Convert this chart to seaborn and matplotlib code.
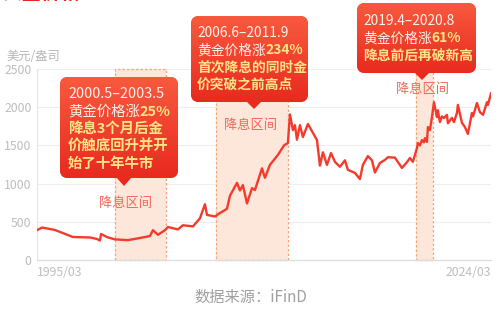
import numpy as np
import pandas as pd
import matplotlib
matplotlib.use("Agg")
import matplotlib.pyplot as plt
import seaborn as sns
from matplotlib.patches import FancyBboxPatch, Polygon
from matplotlib.colors import LinearSegmentedColormap

# ---------------- data ----------------
years = [1995.17, 1995.49, 1996.32, 1997.47, 1998.56, 1999.01, 1999.20, 1999.27, 1999.65, 2000.16,
         2001.00, 2001.76, 2002.40, 2002.59, 2002.91, 2003.36, 2003.55, 2004.19, 2004.51, 2005.15,
         2005.60, 2005.92, 2006.05, 2006.56, 2006.88, 2007.33, 2007.52, 2007.97, 2008.16, 2008.35,
         2008.61, 2008.93, 2009.12, 2009.57, 2009.76, 2010.08, 2010.59, 2010.98, 2011.23, 2011.36,
         2011.55, 2011.68, 2011.81, 2012.00, 2012.19, 2012.51, 2012.83, 2013.09, 2013.28, 2013.47,
         2013.73, 2013.99, 2014.24, 2014.56, 2014.88, 2015.07, 2015.52, 2015.84, 2016.03, 2016.35,
         2016.61, 2016.80, 2017.12, 2017.44, 2017.63, 2018.08, 2018.53, 2018.85, 2019.04, 2019.23,
         2019.49, 2019.55, 2019.68, 2019.81, 2019.94, 2020.00, 2020.13, 2020.19, 2020.32, 2020.45,
         2020.58, 2020.77, 2020.83, 2020.96, 2021.09, 2021.22, 2021.41, 2021.47, 2021.73, 2021.86,
         2022.05, 2022.11, 2022.37, 2022.56, 2022.75, 2023.01, 2023.08, 2023.33, 2023.52, 2023.72,
         2023.97, 2024.04, 2024.23]
prices = [390, 425, 393, 301, 295, 275, 255, 340, 300, 270,
          260, 288, 314, 390, 330, 390, 432, 400, 455, 440,
          545, 730, 590, 570, 615, 670, 840, 1010, 910, 980,
          740, 940, 915, 1200, 1075, 1245, 1375, 1500, 1530, 1905,
          1700, 1765, 1575, 1765, 1610, 1780, 1665, 1570, 1235, 1410,
          1245, 1400, 1285, 1220, 1305, 1180, 1140, 1060, 1245, 1360,
          1305, 1145, 1270, 1310, 1345, 1340, 1205, 1280, 1335, 1285,
          1465, 1530, 1500, 1570, 1540, 1595, 1545, 1740, 1700, 1870,
          2065, 1870, 1960, 1805, 1880, 1858, 1900, 1790, 1860, 1805,
          1925, 2030, 1795, 1740, 1650, 1925, 1880, 2055, 1935, 1900,
          2065, 2030, 2185]

cut_start = [2000.16, 2006.63, 2019.43]
cut_end = [2003.42, 2011.23, 2020.52]
region_label = "降息区间"

callout_dates = ["2000.5–2003.5", "2006.6–2011.9", "2019.4–2020.8"]
callout_gain_prefix = "黄金价格涨"
callout_gain = ["25%", "234%", "61%"]
callout_notes = [["降息3个月后金", "价触底回升并开", "始了十年牛市"],
                 ["首次降息的同时金", "价突破之前高点"],
                 ["降息前后再破新高"]]

y_ticks = [0, 500, 1000, 1500, 2000, 2500]
x_tick_labels = ["1995/03", "2024/03"]
unit_label = "美元/盎司"
source_label = "数据来源：iFinD"
title_label = "黄金价格"

# ---------------- style ----------------
sns.set_theme(style="white")
plt.rcParams["font.family"] = ["Noto Sans CJK SC", "DejaVu Sans"]

W, H = 501, 315
fig = plt.figure(figsize=(W / 100, H / 100), dpi=100)
ax = fig.add_axes([37 / W, 1 - 260 / H, 454 / W, 191 / H])

df = pd.DataFrame({"year": years, "price": prices})

# shaded cut regions
for s, e in zip(cut_start, cut_end):
    ax.axvspan(s, e, ymin=0, ymax=1, facecolor="#fde7da", edgecolor="none", zorder=1)
    ax.axvspan(s, e, ymin=0, ymax=1, facecolor="none", edgecolor="#f7a47c",
               linestyle=(0, (2, 1.6)), linewidth=0.9, zorder=1.5, clip_on=False)

sns.lineplot(data=df, x="year", y="price", ax=ax, color="#f53a2c", linewidth=1.7, zorder=3)

ax.set_xlim(years[0], years[-1])
ax.set_ylim(0, 2500)
ax.set_yticks(y_ticks)
ax.set_yticklabels([str(v) for v in y_ticks], color="#bdbdbd", fontsize=8.8)
ax.set_xticks([])
ax.set_xlabel("")
ax.set_ylabel("")
ax.tick_params(axis="y", length=0, pad=4)
for v in y_ticks:
    ax.axhline(v, color="#eeeeee", linewidth=0.8, zorder=0)
for side in ["top", "right"]:
    ax.spines[side].set_visible(False)
ax.spines["left"].set_color("#e6e6e6")
ax.spines["left"].set_linewidth(0.8)
ax.spines["bottom"].set_color("#dddddd")
ax.spines["bottom"].set_linewidth(0.9)

# ---------------- overlay (pixel coords) ----------------
ov = fig.add_axes([0, 0, 1, 1], zorder=5)
ov.set_xlim(0, W)
ov.set_ylim(H, 0)
ov.axis("off")
ov.patch.set_alpha(0)

ov.text(37, 273, x_tick_labels[0], ha="left", va="center", color="#bdbdbd", fontsize=8.8)
ov.text(491, 273, x_tick_labels[1], ha="right", va="center", color="#bdbdbd", fontsize=8.8)
ov.text(6, 56, unit_label, ha="left", va="center", color="#b5b5b5", fontsize=8.8)
ov.text(251, 297, source_label, ha="center", va="center", color="#a0a0a0", fontsize=11)
ov.text(2, -7, title_label, ha="left", va="center", color="#e8281e", fontsize=14, weight="bold")

# region labels
for (cx, cy) in [(126, 203), (251, 126), (423, 89)]:
    ov.text(cx, cy, region_label, ha="center", va="center", color="#f2685a", fontsize=9.5)

# callout boxes: (left, top, right, bottom, pointer x, pointer tip y, text x, first line y, spacing, fontsize)
boxes = [(60, 77, 178, 178, 124, 186, 68, 94, 17.5, 10.4),
         (191, 16, 308, 102, 254, 109, 197, 33, 17.4, 9.9),
         (357, 3, 476, 73, 422, 80, 363, 21, 17.5, 9.9)]

grad = np.linspace(0, 1, 256).reshape(-1, 1)
cmap = LinearSegmentedColormap.from_list("g", ["#f85a3e", "#e82a1f"])
white = "#fff1ec"
yellow = "#ffe486"

for i, (l, t, r, b, px, tip, tx, ty, sp, fs) in enumerate(boxes):
    box = FancyBboxPatch((l, t), r - l, b - t, boxstyle="round,pad=0,rounding_size=8",
                         facecolor="#ee3a26", edgecolor="none", zorder=6)
    ov.add_patch(box)
    im = ov.imshow(grad, extent=(l, r, b, t), cmap=cmap, aspect="auto", zorder=6.5,
                   interpolation="bilinear")
    im.set_clip_path(box)
    tri = Polygon([(px - 8, b - 1), (px + 8, b - 1), (px, tip)], closed=True,
                  facecolor="#e82a1f", edgecolor="none", zorder=6.6)
    ov.add_patch(tri)
    ov.text(tx, ty, callout_dates[i], ha="left", va="center", color=white, fontsize=fs, zorder=7)
    t2 = ov.text(tx, ty + sp, callout_gain_prefix, ha="left", va="center", color=white,
                 fontsize=fs, zorder=7)
    ov.annotate(callout_gain[i], xy=(1, 0), xycoords=t2, ha="left", va="bottom",
                color=yellow, fontsize=fs, weight="bold", zorder=7)
    for j, line in enumerate(callout_notes[i]):
        ov.text(tx, ty + sp * (2 + j), line, ha="left", va="center", color=yellow,
                fontsize=fs, weight="bold", zorder=7)

fig.savefig("out.png", dpi=100)
